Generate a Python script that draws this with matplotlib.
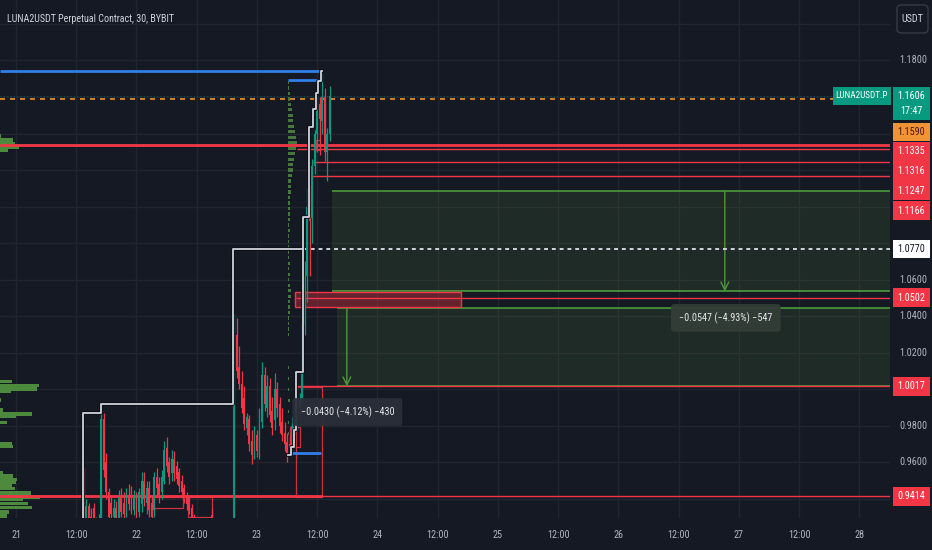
import numpy as np
import matplotlib
matplotlib.use("Agg")
import matplotlib.pyplot as plt
from matplotlib.patches import Rectangle, FancyBboxPatch
from matplotlib.transforms import blended_transform_factory

# ---- data (time in hours from the 21st 00:00, prices in USDT) ----
candle_start = 13.5  # first 30 min candle
opens = [0.953, 0.926, 0.936, 0.930, 0.935, 0.924, 0.928, 0.925, 0.984, 0.960,
         0.944, 0.938, 0.930, 0.935, 0.928, 0.941, 0.938, 0.933, 0.942, 0.940,
         0.934, 0.942, 0.933, 0.937, 0.950, 0.938, 0.946, 0.938, 0.934, 0.952,
         0.948, 0.944, 0.950, 0.968, 0.960, 0.954, 0.962, 0.958, 0.955, 0.950,
         0.946, 0.942, 0.940, 0.935, 0.930, 0.926, 0.922, 0.919, 0.920, 0.917,
         0.919, 0.931, 0.925, 0.918, 0.915, 0.917, 0.913, 0.916, 0.912, 0.915,
         0.927, 1.030, 1.012, 1.003, 0.995, 0.979, 0.984, 0.972, 0.965, 0.975,
         0.966, 0.982, 1.008, 0.990, 1.002, 0.988, 0.983, 1.000, 0.992, 0.982,
         0.976, 0.971, 0.970, 0.968, 0.980, 0.986, 0.990, 0.995, 1.035, 1.062,
         1.100, 1.094, 1.122, 1.140, 1.156, 1.147, 1.160, 1.130, 1.140]
highs = [0.957, 0.940, 0.938, 0.935, 0.938, 0.930, 0.932, 0.988, 0.987, 0.965,
         0.946, 0.941, 0.940, 0.939, 0.945, 0.946, 0.944, 0.946, 0.948, 0.947,
         0.945, 0.944, 0.946, 0.955, 0.955, 0.950, 0.950, 0.942, 0.955, 0.957,
         0.952, 0.956, 0.972, 0.974, 0.963, 0.967, 0.966, 0.961, 0.957, 0.953,
         0.948, 0.944, 0.942, 0.937, 0.932, 0.928, 0.926, 0.924, 0.925, 0.922,
         0.926, 0.935, 0.927, 0.922, 0.920, 0.921, 0.918, 0.920, 0.917, 0.924,
         1.041, 1.039, 1.024, 1.010, 1.002, 0.987, 0.986, 0.978, 0.980, 0.978,
         0.990, 1.015, 1.012, 1.008, 1.006, 0.996, 1.009, 1.004, 0.996, 0.990,
         0.982, 0.976, 0.975, 0.985, 0.992, 0.995, 0.998, 1.040, 1.070, 1.110,
         1.112, 1.126, 1.142, 1.160, 1.160, 1.1745, 1.165, 1.143, 1.166]
lows = [0.925, 0.920, 0.922, 0.920, 0.921, 0.918, 0.918, 0.920, 0.952, 0.940,
        0.926, 0.925, 0.927, 0.922, 0.925, 0.930, 0.928, 0.930, 0.934, 0.932,
        0.931, 0.929, 0.930, 0.933, 0.936, 0.932, 0.930, 0.926, 0.930, 0.942,
        0.938, 0.940, 0.948, 0.955, 0.948, 0.950, 0.950, 0.948, 0.944, 0.942,
        0.938, 0.934, 0.932, 0.925, 0.922, 0.918, 0.915, 0.913, 0.914, 0.912,
        0.915, 0.924, 0.916, 0.912, 0.910, 0.911, 0.908, 0.910, 0.907, 0.912,
        0.920, 1.006, 1.000, 0.987, 0.978, 0.975, 0.966, 0.959, 0.962, 0.963,
        0.962, 0.979, 0.988, 0.985, 0.982, 0.975, 0.978, 0.985, 0.976, 0.972,
        0.966, 0.960, 0.965, 0.966, 0.975, 0.978, 0.985, 0.992, 1.030, 1.048,
        1.062, 1.080, 1.118, 1.130, 1.128, 1.140, 1.125, 1.114, 1.136]
closes = [0.928, 0.936, 0.926, 0.924, 0.925, 0.928, 0.922, 0.984, 0.956, 0.944,
          0.930, 0.932, 0.935, 0.926, 0.941, 0.933, 0.932, 0.942, 0.937, 0.936,
          0.942, 0.933, 0.944, 0.950, 0.940, 0.946, 0.934, 0.930, 0.952, 0.946,
          0.942, 0.952, 0.967, 0.958, 0.952, 0.962, 0.954, 0.951, 0.947, 0.944,
          0.940, 0.937, 0.934, 0.928, 0.925, 0.921, 0.918, 0.920, 0.916, 0.919,
          0.924, 0.926, 0.918, 0.915, 0.917, 0.913, 0.916, 0.912, 0.915, 0.922,
          1.030, 1.010, 1.003, 0.990, 0.981, 0.985, 0.970, 0.964, 0.975, 0.966,
          0.985, 1.008, 0.992, 1.002, 0.986, 0.979, 1.000, 0.990, 0.980, 0.975,
          0.970, 0.965, 0.968, 0.980, 0.988, 0.992, 0.995, 1.035, 1.062, 1.100,
          1.092, 1.122, 1.140, 1.156, 1.148, 1.160, 1.130, 1.140, 1.1606]

# horizontal levels: price, start hour (None = left edge)
level_prices = [1.1335, 1.1316, 1.1247, 1.1166, 1.0502, 1.0017, 0.9414]
level_starts = [None, 56.0, 59.2, 59.0, 55.8, 55.8, None]
thick_levels = [1.1335, 0.9414]
thick_ends = [None, 61.0]

last_price = 1.1606
mark_price = 1.1590
dotted_price = 1.0770

blue_prices = [1.1745, 1.1693, 0.9649]
blue_starts = [None, 54.2, 54.4]
blue_ends = [61.0, 60.6, 60.8]

# step trail lines
upper_trail_t = [13.35, 13.35, 17.0, 43.3, 57.2]
upper_trail_p = [0.920, 0.9871, 0.9920, 1.0768, 1.0768]
lower_trail_t = [54.2, 54.8, 55.4, 55.8, 57.2, 58.3, 59.2, 59.8, 60.2, 60.7, 61.0]
lower_trail_p = [0.9641, 0.9685, 0.9780, 1.0095, 1.0943, 1.1436, 1.1535, 1.1622,
                 1.1688, 1.1742, 1.1742]

# volume profiles
left_vp_price = [1.1387, 1.1365, 1.1343, 1.1324, 1.1305, 1.0041, 1.0019, 1.0002,
                 0.9986, 0.9942, 0.9887, 0.9865, 0.9849, 0.9821, 0.9706, 0.9685,
                 0.9542, 0.9526, 0.9509, 0.9488, 0.9471, 0.9455, 0.9433, 0.9411,
                 0.9395, 0.9373, 0.9351, 0.9329, 0.9307]
left_vp_vol = [1, 13, 15, 19, 8, 12, 39, 37, 11, 1, 3, 32, 16, 7, 12, 13, 3, 13,
               17, 16, 12, 15, 31, 40, 23, 28, 32, 9, 7]
mid_vp_price = [1.168, 1.165, 1.162, 1.159, 1.156, 1.153, 1.150, 1.147, 1.144,
                1.141, 1.138, 1.135, 1.132, 1.129, 1.126, 1.123, 1.120, 1.117,
                1.114, 1.111, 1.108, 1.105, 1.102, 1.099, 1.096, 1.093, 1.090,
                1.087, 1.084, 1.081, 1.078, 1.075, 1.072, 1.069, 1.066, 1.063,
                1.060, 1.057, 1.054, 1.051, 1.048, 1.045, 1.042, 1.039, 1.036,
                1.033, 1.030, 1.012, 1.006, 1.000, 0.994, 0.988, 0.982, 0.976]
mid_vp_vol = [1, 1, 2, 2, 3, 4, 5, 5, 6, 7, 8, 9, 8, 7, 6, 5, 5, 4, 3, 3, 3, 2, 2,
              2, 2, 2, 1, 2, 1, 1, 1, 1, 1, 2, 1, 2, 1, 2, 3, 3, 2, 2, 2, 1, 1, 1,
              1, 1, 1, 1, 2, 1, 1, 1]

# price range measurements
range_starts = [62.9, 63.9]
range_top = [1.1083, 1.0447]
range_bottom = [1.0536, 1.0017]
range_arrow_t = [141.2, 65.9]
range_labels = ["\u22120.0547 (\u22124.93%) \u2212547", "\u22120.0430 (\u22124.12%) \u2212430"]

# red zones (t0, t1, p0, p1)
red_fill_box = (55.6, 88.6, 1.0450, 1.0532)
red_outline_boxes = [(55.8, 61.0, 0.9411, 1.0013), (27.1, 33.3, 0.9351, 0.9411),
                     (34.3, 39.0, 0.9300, 0.9411), (59.8, 60.6, 1.1310, 1.1365),
                     (54.6, 56.6, 0.9685, 0.9794)]

day_ticks = list(range(0, 169, 12))
day_labels = ["21", "12:00", "22", "12:00", "23", "12:00", "24", "12:00",
              "25", "12:00", "26", "12:00", "27", "12:00", "28"]
price_ticks = [1.18, 1.06, 1.04, 1.02, 0.98, 0.96]

# ---- style ----
BG = "#151924"
GRID = "#21252f"
TXT = "#b2b5be"
GREEN = "#089981"
RED = "#f23645"
BLUE = "#2f7fe8"
VPC = "#4e8a3e"
ZONE = "#6aa53a"
plt.rcParams["font.family"] = ["Roboto Condensed", "Liberation Sans", "DejaVu Sans"]
FS = 7.3

W, H = 932, 550
fig = plt.figure(figsize=(W / 100, H / 100), dpi=100, facecolor=BG)
ax = fig.add_axes([0, 32 / H, 890 / W, 518 / H])
ax.set_facecolor(BG)
X0, X1 = -3.19, 174.1
P0, P1 = 0.92959, 1.21311
ax.set_xlim(X0, X1)
ax.set_ylim(P0, P1)
for s in ax.spines.values():
    s.set_visible(False)
ax.set_xticks(day_ticks)
ax.set_yticks(np.arange(0.94, 1.201, 0.02))
ax.tick_params(length=0, labelbottom=False, labelleft=False)
ax.grid(True, color=GRID, lw=1)
ax.set_axisbelow(True)


def ypx(p):
    # price -> pixel row from the top of the figure
    return 518 - (p - P0) / (P1 - P0) * 518


# price ranges
for t0, top, bot, ta in zip(range_starts, range_top, range_bottom, range_arrow_t):
    ax.add_patch(Rectangle((t0, bot), X1 + 10 - t0, top - bot, fc=ZONE, alpha=0.13,
                           ec="none", zorder=1))
    ax.hlines([top, bot], t0, X1 + 10, color="#4c9a3a", lw=1.2, zorder=2)
    ax.annotate("", xy=(ta, bot), xytext=(ta, top),
                arrowprops=dict(arrowstyle="->", color="#4c9a3a", lw=1,
                                mutation_scale=14, shrinkA=0, shrinkB=0), zorder=2)

# volume profiles
ax.barh(left_vp_price, np.array(left_vp_vol) / 5.02, left=X0, height=0.0017,
        color=VPC, zorder=2)
ax.barh(mid_vp_price, np.array(mid_vp_vol) / 5.02, left=54.2, height=0.0018,
        color=VPC, alpha=0.85, zorder=2)

# levels
xr = X1 + 10
for p, st in zip(level_prices, level_starts):
    ax.hlines(p, X0 if st is None else st, xr, color=RED, lw=1, zorder=3)
for p, en in zip(thick_levels, thick_ends):
    ax.hlines(p, X0, xr if en is None else en, color=RED, lw=2, zorder=3)

ax.axhline(last_price, color=GREEN, lw=0.8, alpha=0.45, dashes=(1, 2), zorder=2)
ax.axhline(mark_price, color="#f7931a", lw=1.2, dashes=(3, 3), zorder=3)
ax.hlines(dotted_price, upper_trail_t[-1], xr, color="#d1d4dc", lw=1.4,
          linestyles=(0, (2, 2)), zorder=3)

# red boxes
t0, t1, p0, p1 = red_fill_box
ax.add_patch(Rectangle((t0, p0), t1 - t0, p1 - p0, fc=RED, alpha=0.35, ec="none", zorder=3))
ax.add_patch(Rectangle((t0, p0), t1 - t0, p1 - p0, fc="none", ec=RED, lw=1, zorder=3))
for t0, t1, p0, p1 in red_outline_boxes:
    ax.add_patch(Rectangle((t0, p0), t1 - t0, p1 - p0, fc="none", ec=RED, lw=0.9,
                           alpha=0.85, zorder=3))

# blue highs / lows
for p, st, en in zip(blue_prices, blue_starts, blue_ends):
    ax.hlines(p, X0 if st is None else st, en, color=BLUE, lw=2, zorder=5)

# candles
t = candle_start + 0.5 * np.arange(len(opens))
o, hi, lo, c = (np.array(v) for v in (opens, highs, lows, closes))
col = np.where(c >= o, GREEN, RED)
ax.vlines(t, lo, hi, colors=col, lw=0.9, zorder=4)
body = np.maximum(np.abs(c - o), 0.0008)
ax.bar(t, body, bottom=np.minimum(o, c), width=0.38, color=col, lw=0, zorder=4)

# trails
for tt, pp in ((upper_trail_t, upper_trail_p), (lower_trail_t, lower_trail_p)):
    ax.plot(tt, pp, drawstyle="steps-post", color="#0d0f15", lw=2.6, zorder=5)
    ax.plot(tt, pp, drawstyle="steps-post", color="#d1d4dc", lw=1.3, zorder=6)

# range labels
lbl_pos = [(141.4, 1.0391, "#323d36"), (66.0, 0.9876, "#2b2f3a")]
for (lt, lp, fc), txt in zip(lbl_pos, range_labels):
    ax.text(lt, lp, txt, ha="center", va="center", color="#e6e8ee", fontsize=FS,
            zorder=8, bbox=dict(boxstyle="round,pad=0.8,rounding_size=0.3",
                                fc=fc, ec="none", alpha=0.95))

# title
fig.text(7 / W, 1 - 19 / H, "LUNA2USDT Perpetual Contract, 30, BYBIT",
         color="#d1d4dc", fontsize=7.2, va="center")

# x labels
xt = blended_transform_factory(ax.transData, fig.transFigure)
for d, lab in zip(day_ticks, day_labels):
    ax.text(d, 1 - 535 / H, lab, transform=xt, ha="center", va="center",
            color=TXT, fontsize=FS)

# price axis
for p in price_ticks:
    fig.text(913 / W, 1 - ypx(p) / H, "%.4f" % p, ha="center", va="center",
             color=TXT, fontsize=FS)


def box(y0, y1, text, fc, tc, x0=893, x1=930, fs=FS):
    fig.add_artist(Rectangle((x0 / W, 1 - y1 / H), (x1 - x0) / W, (y1 - y0) / H,
                             transform=fig.transFigure, fc=fc, ec="none"))
    fig.text((x0 + x1) / 2 / W, 1 - (y0 + y1) / 2 / H, text, ha="center",
             va="center", color=tc, fontsize=fs, linespacing=1.55)


box(87, 120, "%.4f\n17:47" % last_price, GREEN, "#ffffff")
box(87, 105, "LUNA2USDT.P", GREEN, "#ffffff", x0=833, x1=891, fs=6.6)
box(123, 141, "%.4f" % mark_price, "#ef9334", "#4a1212")
stacked = [(142, 161, 1.1335), (161, 181, 1.1316), (181, 200, 1.1247), (201, 220, 1.1166)]
for y0, y1, p in stacked:
    box(y0, y1, "%.4f" % p, RED, "#ffffff")
yd = ypx(dotted_price)
box(yd - 9, yd + 9, "%.4f" % dotted_price, "#ffffff", "#131722")
for p in (1.0502, 1.0017, 0.9414):
    yy = ypx(p)
    box(yy - 9.5, yy + 9.5, "%.4f" % p, RED, "#ffffff")

fig.add_artist(FancyBboxPatch((897 / W, 1 - 33 / H), 31 / W, 28 / H,
                              boxstyle="round,pad=0,rounding_size=0.006",
                              transform=fig.transFigure, fc=BG, ec="#363a45", lw=1))
fig.text(912.5 / W, 1 - 19.5 / H, "USDT", ha="center", va="center", color="#d1d4dc",
         fontsize=7.3)

fig.savefig("out.png", dpi=100, facecolor=BG)
